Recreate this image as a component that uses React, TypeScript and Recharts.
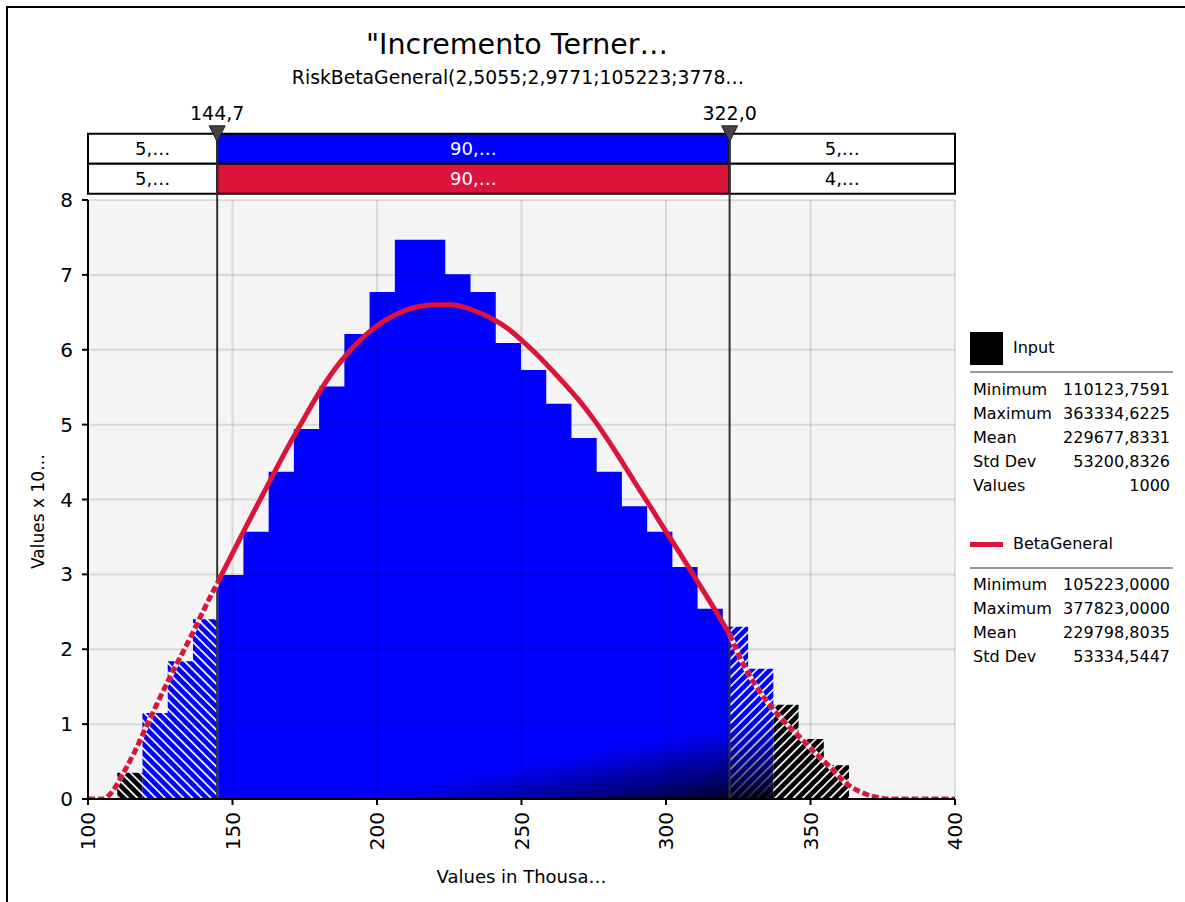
import React from 'react';
import {
  ComposedChart,
  Area,
  Line,
  XAxis,
  YAxis,
  ReferenceLine,
  ReferenceArea,
  ReferenceDot,
  CartesianGrid,
} from 'recharts';

// ---------- data ----------
const titleText = '"Incremento Terner…';
const subtitleText = 'RiskBetaGeneral(2,5055;2,9771;105223;3778…';
const xTitle = 'Values in Thousa…';
const yTitle = 'Values x 10…';

const xTicks = [100, 150, 200, 250, 300, 350, 400];
const yTicks = [0, 1, 2, 3, 4, 5, 6, 7, 8];

// histogram bins (thousands) and density heights (x 10^-6)
const binEdges = [
  110.12, 118.85, 127.59, 136.32, 145.05, 153.78, 162.51, 171.24, 179.97, 188.71,
  197.44, 206.17, 214.9, 223.63, 232.36, 241.09, 249.82, 258.56, 267.29, 276.02,
  284.75, 293.48, 302.21, 310.94, 319.67, 328.41, 337.14, 345.87, 354.6, 363.33,
];
const binHeights = [
  0.35, 1.15, 1.84, 2.4, 2.99, 3.57, 4.37, 4.94, 5.51, 6.21,
  6.77, 7.47, 7.47, 7.01, 6.77, 6.09, 5.73, 5.28, 4.82, 4.37,
  3.91, 3.57, 3.1, 2.54, 2.3, 1.74, 1.26, 0.8, 0.45,
];

// fitted BetaGeneral density
const curveX = [
  100, 105.2, 108, 112, 116, 120, 124, 128, 132, 136, 140, 144.7,
  150, 155, 160, 165, 170, 175, 180, 185, 190, 195,
  200, 205, 210, 215, 220, 225, 230, 235, 240, 245,
  250, 255, 260, 265, 270, 275, 280, 285, 290, 295,
  300, 305, 310, 315, 322,
  327, 332, 337, 342, 347, 352, 357, 362, 367, 372, 377.8, 400,
];
const curveY = [
  0, 0, 0.08, 0.33, 0.62, 0.95, 1.28, 1.6, 1.9, 2.2, 2.52, 2.88,
  3.28, 3.66, 4.03, 4.4, 4.76, 5.1, 5.43, 5.72, 5.96, 6.16,
  6.32, 6.44, 6.53, 6.58, 6.6, 6.6, 6.57, 6.5, 6.41, 6.29,
  6.13, 5.95, 5.75, 5.54, 5.32, 5.07, 4.79, 4.49, 4.18, 3.88,
  3.57, 3.27, 2.96, 2.65, 2.2,
  1.78, 1.46, 1.2, 0.99, 0.8, 0.6, 0.42, 0.22, 0.1, 0.03, 0, 0,
];

// delimiters
const cutLow = 144.7;
const cutHigh = 322.0;
const cutLabels = ['144,7', '322,0'];

// percentage band rows (upper = Input, lower = BetaGeneral)
const bandInput = ['5,…', '90,…', '5,…'];
const bandFit = ['5,…', '90,…', '4,…'];
const bandRowInput: [number, number] = [8.484, 8.884];
const bandRowFit: [number, number] = [8.084, 8.484];

// statistics
const inputStatLabels = ['Minimum', 'Maximum', 'Mean', 'Std Dev', 'Values'];
const inputStatValues = ['110123,7591', '363334,6225', '229677,8331', '53200,8326', '1000'];
const fitStatLabels = ['Minimum', 'Maximum', 'Mean', 'Std Dev'];
const fitStatValues = ['105223,0000', '377823,0000', '229798,8035', '53334,5447'];

// ---------- helpers ----------
type Pt = { x: number; y: number };
function segment(from: number, to: number, xStart?: number, xEnd?: number): Pt[] {
  const pts: Pt[] = [];
  for (let i = from; i <= to; i++) {
    pts.push({ x: i === from && xStart !== undefined ? xStart : binEdges[i], y: binHeights[i] });
  }
  pts.push({ x: xEnd !== undefined ? xEnd : binEdges[to + 1], y: binHeights[to] });
  return pts;
}

const blackLeft = segment(0, 0);
const hatchLeft = segment(1, 3);
const solidMid = segment(4, 24, undefined, cutHigh);
const hatchRight = segment(24, 25, cutHigh);
const blackRight = segment(26, 28);
const shadeOverlay = segment(4, 25);

const curve: Pt[] = curveX.map((x, i) => ({ x, y: curveY[i] }));
const curveLeft = curve.filter((p) => p.x <= cutLow);
const curveMid = curve.filter((p) => p.x >= cutLow && p.x <= cutHigh);
const curveRight = curve.filter((p) => p.x >= cutHigh);

const BLUE = '#0000ff';
const RED = '#dc143c';
const FONT = '"DejaVu Sans", Verdana, sans-serif';

const XTick = (props: any) => {
  const { x, y, payload } = props;
  const ty = y + 5;
  return (
    <text
      x={x}
      y={ty}
      transform={`rotate(-90 ${x} ${ty})`}
      textAnchor="end"
      dominantBaseline="central"
      fontSize={20}
      fill="#000"
    >
      {payload.value}
    </text>
  );
};

const YLabel = (props: any) => {
  const vb = props.viewBox || { x: 28, y: 200, width: 60, height: 599 };
  const cx = vb.x + 10;
  const cy = vb.y + vb.height / 2 + 12;
  return (
    <text
      x={cx}
      y={cy}
      transform={`rotate(-90 ${cx} ${cy})`}
      textAnchor="middle"
      dominantBaseline="central"
      fontSize={17}
      fill="#000"
    >
      {yTitle}
    </text>
  );
};

const Triangle = (props: any) => {
  const { cx, cy } = props;
  if (cx == null || cy == null) return <g />;
  return (
    <polygon
      points={`${cx - 8},${cy - 8} ${cx + 8},${cy - 8} ${cx},${cy + 8}`}
      fill="#444"
      stroke="#222"
      strokeWidth={1}
    />
  );
};

const bandCells = (row: string[], yr: [number, number], midFill: string, key: string) => {
  const xs = [100, cutLow, cutHigh, 400];
  return row.map((label, i) => (
    <ReferenceArea
      key={key + i}
      x1={xs[i]}
      x2={xs[i + 1]}
      y1={yr[0]}
      y2={yr[1]}
      ifOverflow="visible"
      fill={i === 1 ? midFill : '#ffffff'}
      fillOpacity={1}
      stroke="#000"
      strokeWidth={2}
      label={{ value: label, position: 'center', fill: i === 1 ? '#fff' : '#000', fontSize: 18 }}
    />
  ));
};

const StatRows = ({ labels, values, top }: { labels: string[]; values: string[]; top: number }) => (
  <>
    {labels.map((l, i) => (
      <div
        key={l}
        style={{
          position: 'absolute',
          left: 973,
          width: 197,
          top: top + i * 24,
          height: 20,
          lineHeight: '20px',
          fontSize: 16,
          display: 'flex',
          justifyContent: 'space-between',
          whiteSpace: 'nowrap',
        }}
      >
        <span>{l}</span>
        <span>{values[i]}</span>
      </div>
    ))}
  </>
);

export default function App() {
  return (
    <div
      style={{
        position: 'absolute',
        left: 0,
        top: 0,
        width: 1185,
        height: 902,
        overflow: 'hidden',
        background: '#fff',
        fontFamily: FONT,
        color: '#000',
      }}
    >
      <div
        style={{
          position: 'absolute',
          left: 6,
          top: 6,
          width: 1179,
          height: 896,
          borderLeft: '2px solid #000',
          borderTop: '2px solid #000',
          boxSizing: 'border-box',
        }}
      />
      <div
        style={{
          position: 'absolute',
          left: 0,
          width: 1034,
          top: 28,
          fontSize: 28.5,
          lineHeight: '34px',
          textAlign: 'center',
          whiteSpace: 'nowrap',
        }}
      >
        {titleText}
      </div>
      <div
        style={{
          position: 'absolute',
          left: 0,
          width: 1036,
          top: 68,
          fontSize: 18.8,
          lineHeight: '20px',
          textAlign: 'center',
          whiteSpace: 'nowrap',
        }}
      >
        {subtitleText}
      </div>

      <div style={{ position: 'absolute', left: 0, top: 0 }}>
        <ComposedChart width={1185} height={902} margin={{ top: 200, right: 230, bottom: 19, left: 28 }}>
          <defs>
            <pattern id="hatchBlueL" width="6.5" height="6.5" patternUnits="userSpaceOnUse" patternTransform="rotate(-45)">
              <rect width="6.5" height="6.5" fill={BLUE} />
              <rect x="0" y="0" width="1.7" height="6.5" fill="#fff" />
            </pattern>
            <pattern id="hatchBlackL" width="6.5" height="6.5" patternUnits="userSpaceOnUse" patternTransform="rotate(-45)">
              <rect width="6.5" height="6.5" fill="#000" />
              <rect x="0" y="0" width="1.7" height="6.5" fill="#fff" />
            </pattern>
            <pattern id="hatchBlueR" width="6.5" height="6.5" patternUnits="userSpaceOnUse" patternTransform="rotate(45)">
              <rect width="6.5" height="6.5" fill={BLUE} />
              <rect x="0" y="0" width="1.7" height="6.5" fill="#fff" />
            </pattern>
            <pattern id="hatchBlackR" width="6.5" height="6.5" patternUnits="userSpaceOnUse" patternTransform="rotate(45)">
              <rect width="6.5" height="6.5" fill="#000" />
              <rect x="0" y="0" width="1.7" height="6.5" fill="#fff" />
            </pattern>
            <linearGradient id="shade" x1="0" y1="0" x2="0.22" y2="1.15">
              <stop offset="0" stopColor="#000" stopOpacity={0} />
              <stop offset="0.875" stopColor="#000" stopOpacity={0} />
              <stop offset="0.945" stopColor="#000" stopOpacity={0.5} />
              <stop offset="1" stopColor="#000" stopOpacity={0.95} />
            </linearGradient>
          </defs>
          <CartesianGrid fill="#f4f4f4" horizontal={false} vertical={false} />
          <XAxis
            type="number"
            dataKey="x"
            domain={[100, 400]}
            ticks={xTicks}
            interval={0}
            allowDataOverflow
            height={84}
            axisLine={{ stroke: '#000', strokeWidth: 2 }}
            tickLine={{ stroke: '#000', strokeWidth: 2 }}
            tickSize={6}
            tick={<XTick />}
            label={{ value: xTitle, position: 'insideBottom', offset: 0, fontSize: 18, fill: '#000' }}
          />
          <YAxis
            type="number"
            dataKey="y"
            domain={[0, 8]}
            ticks={yTicks}
            interval={0}
            allowDataOverflow
            width={60}
            axisLine={{ stroke: '#000', strokeWidth: 2 }}
            tickLine={{ stroke: '#000', strokeWidth: 2 }}
            tickSize={6}
            tickMargin={9}
            tick={{ fontSize: 20, fill: '#000' }}
            label={YLabel}
          />

          <Area data={blackLeft} dataKey="y" type="stepAfter" stroke="none" fill="url(#hatchBlackL)" fillOpacity={1} isAnimationActive={false} dot={false} activeDot={false} />
          <Area data={hatchLeft} dataKey="y" type="stepAfter" stroke="none" fill="url(#hatchBlueL)" fillOpacity={1} isAnimationActive={false} dot={false} activeDot={false} />
          <Area data={solidMid} dataKey="y" type="stepAfter" stroke="none" fill={BLUE} fillOpacity={1} isAnimationActive={false} dot={false} activeDot={false} />
          <Area data={hatchRight} dataKey="y" type="stepAfter" stroke="none" fill="url(#hatchBlueR)" fillOpacity={1} isAnimationActive={false} dot={false} activeDot={false} />
          <Area data={blackRight} dataKey="y" type="stepAfter" stroke="none" fill="url(#hatchBlackR)" fillOpacity={1} isAnimationActive={false} dot={false} activeDot={false} />
          <Area data={shadeOverlay} dataKey="y" type="stepAfter" stroke="none" fill="url(#shade)" fillOpacity={1} isAnimationActive={false} dot={false} activeDot={false} />

          {yTicks.slice(1).map((t) => (
            <ReferenceLine key={'gy' + t} y={t} stroke="#000" strokeOpacity={0.11} strokeWidth={2} />
          ))}
          {xTicks.slice(1).map((t) => (
            <ReferenceLine key={'gx' + t} x={t} stroke="#000" strokeOpacity={0.11} strokeWidth={2} />
          ))}

          {bandCells(bandInput, bandRowInput, BLUE, 'bi')}
          {bandCells(bandFit, bandRowFit, RED, 'bf')}

          {[cutLow, cutHigh].map((c) => (
            <ReferenceLine
              key={'cut' + c}
              segment={[
                { x: c, y: 0 },
                { x: c, y: bandRowInput[1] },
              ]}
              ifOverflow="visible"
              stroke="#333"
              strokeWidth={2}
            />
          ))}

          <Line data={curveLeft} dataKey="y" type="monotone" stroke="#fff" strokeWidth={5} dot={false} activeDot={false} isAnimationActive={false} />
          <Line data={curveLeft} dataKey="y" type="monotone" stroke={RED} strokeWidth={5} strokeDasharray="7 3" dot={false} activeDot={false} isAnimationActive={false} />
          <Line data={curveRight} dataKey="y" type="monotone" stroke="#fff" strokeWidth={5} dot={false} activeDot={false} isAnimationActive={false} />
          <Line data={curveRight} dataKey="y" type="monotone" stroke={RED} strokeWidth={5} strokeDasharray="7 3" dot={false} activeDot={false} isAnimationActive={false} />
          <Line data={curveMid} dataKey="y" type="monotone" stroke={RED} strokeWidth={5} dot={false} activeDot={false} isAnimationActive={false} />

          {[cutLow, cutHigh].map((c, i) => (
            <ReferenceDot
              key={'tri' + c}
              x={c}
              y={bandRowInput[1]}
              r={8}
              ifOverflow="visible"
              shape={Triangle}
              label={{ value: cutLabels[i], position: 'top', offset: 6, fontSize: 19, fill: '#000' }}
            />
          ))}
        </ComposedChart>
      </div>

      {/* legend: Input */}
      <div style={{ position: 'absolute', left: 970, top: 332, width: 33, height: 33, background: '#000' }} />
      <div style={{ position: 'absolute', left: 1013, top: 338, fontSize: 16, lineHeight: '20px' }}>Input</div>
      <div style={{ position: 'absolute', left: 970, top: 371, width: 203, height: 2, background: '#999' }} />
      <StatRows labels={inputStatLabels} values={inputStatValues} top={380} />

      {/* legend: BetaGeneral */}
      <div style={{ position: 'absolute', left: 970, top: 542, width: 33, height: 5, background: RED }} />
      <div style={{ position: 'absolute', left: 1013, top: 534, fontSize: 16, lineHeight: '20px' }}>BetaGeneral</div>
      <div style={{ position: 'absolute', left: 970, top: 567, width: 203, height: 2, background: '#999' }} />
      <StatRows labels={fitStatLabels} values={fitStatValues} top={575} />
    </div>
  );
}
